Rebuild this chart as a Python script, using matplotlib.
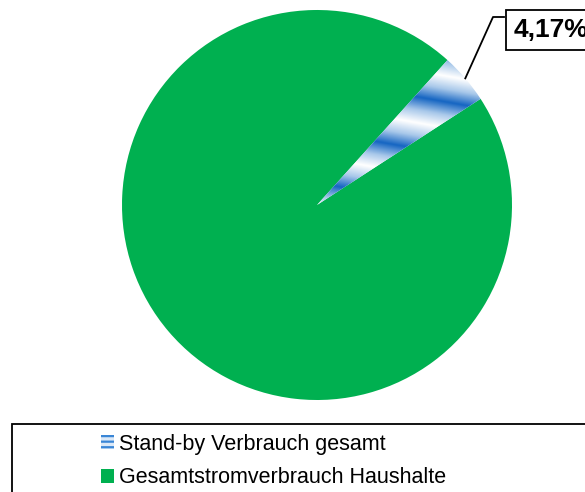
import numpy as np
import matplotlib
matplotlib.use("Agg")
import matplotlib.pyplot as plt
from matplotlib.patches import Rectangle
from matplotlib.colors import LinearSegmentedColormap

plt.rcParams['font.family'] = ['Liberation Sans', 'DejaVu Sans']
plt.rcParams['hatch.linewidth'] = 1.6

labels = ["Stand-by Verbrauch gesamt", "Gesamtstromverbrauch Haushalte"]
values = [4.17, 95.83]
green = "#00B050"

W, H = 585, 492
fig = plt.figure(figsize=(W / 100, H / 100), dpi=100)

# pie axes: circle centred at (317, 205) px with radius 195 px
cx, cy, r = 317, 205, 195
ax = fig.add_axes([(cx - r) / W, 1 - (cy + r) / H, 2 * r / W, 2 * r / H])
wedges, _ = ax.pie(values, startangle=48, counterclock=False,
                   colors=["white", green], radius=1,
                   wedgeprops=dict(linewidth=0))
ax.set_xlim(-1, 1)
ax.set_ylim(-1, 1)
ax.set_aspect("equal")
ax.axis("off")

# striped blue gradient fill for the stand-by slice
stripe = LinearSegmentedColormap.from_list(
    "stripe", ["#ffffff", "#a8c8ea", "#1565c2", "#a8c8ea", "#ffffff"])
xx, yy = np.meshgrid(np.linspace(-1, 1, 700), np.linspace(-1, 1, 700))
ang = np.deg2rad(10)
t = (yy * np.cos(ang) + xx * np.sin(ang)) / 0.262
field = np.mod(t + 0.07, 1.0)
im = ax.imshow(field, cmap=stripe, extent=(-1, 1, -1, 1), origin="lower",
               interpolation="bilinear", zorder=3)
im.set_clip_path(wedges[0])

# percentage label with leader line
w0 = wedges[0]
mid = np.deg2rad((w0.theta1 + w0.theta2) / 2)
p0 = (np.cos(mid), np.sin(mid))
p1 = ((493 - cx) / r, (cy - 17) / r)
p2 = ((504 - cx) / r, (cy - 17) / r)
ax.plot([p0[0], p1[0], p2[0]], [p0[1], p1[1], p2[1]], color="black",
        lw=1.3, clip_on=False, zorder=4)
pct = values[0] / sum(values) * 100
txt = f"{pct:.2f}".replace(".", ",") + "%"
ax.text((514 - cx) / r, (cy - 30) / r, txt, fontsize=19, fontweight="bold",
        ha="left", va="center", clip_on=False, zorder=5,
        bbox=dict(boxstyle="square,pad=0.3", fc="white", ec="black", lw=1.3))

# legend frame running off the right and bottom edges
fig.patches.append(Rectangle((12 / W, -0.05), 1.0, 1 - 424 / H + 0.05,
                             transform=fig.transFigure, fc="none",
                             ec="black", lw=1.3))

h1 = Rectangle((0, 0), 1, 1, fc="#dce9f7", edgecolor="#3a86d6", hatch="---",
               lw=0)
h2 = Rectangle((0, 0), 1, 1, fc=green, ec="none")
leg = fig.legend([h1, h2], labels, loc="center left",
                 bbox_to_anchor=(101 / W, 1 - 461 / H), frameon=False,
                 fontsize=15.5, handlelength=0.62, handleheight=0.65,
                 handletextpad=0.2, labelspacing=0.6, borderpad=0,
                 borderaxespad=0)

fig.savefig("out.png", dpi=100)
